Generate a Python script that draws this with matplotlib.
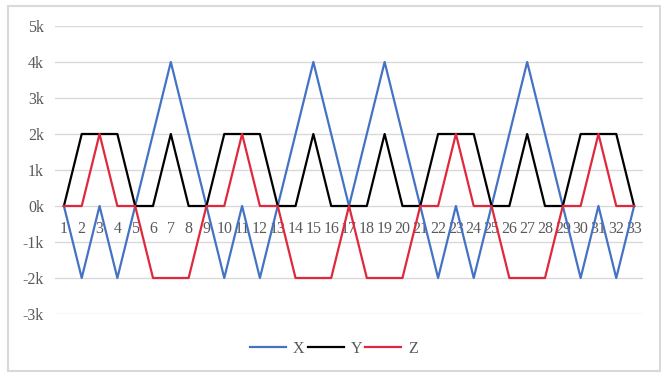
#Recreating the X / Y / Z zigzag line chart

#imports
import matplotlib
matplotlib.use("Agg")
import matplotlib.pyplot as plt
from matplotlib.patches import Rectangle
from matplotlib.ticker import FuncFormatter

#data
categories = list(range(1, 34))

x_values = [0, -2000, 0, -2000, 0, 2000, 4000, 2000, 0, -2000, 0,
            -2000, 0, 2000, 4000, 2000, 0, 2000, 4000, 2000, 0, -2000,
            0, -2000, 0, 2000, 4000, 2000, 0, -2000, 0, -2000, 0]

y_values = [0, 2000, 2000, 2000, 0, 0, 2000, 0, 0, 2000, 2000,
            2000, 0, 0, 2000, 0, 0, 0, 2000, 0, 0, 2000,
            2000, 2000, 0, 0, 2000, 0, 0, 2000, 2000, 2000, 0]

z_values = [0, 0, 2000, 0, 0, -2000, -2000, -2000, 0, 0, 2000,
            0, 0, -2000, -2000, -2000, 0, -2000, -2000, -2000, 0, 0,
            2000, 0, 0, -2000, -2000, -2000, 0, 0, 2000, 0, 0]

y_ticks = [-3000, -2000, -1000, 0, 1000, 2000, 3000, 4000, 5000]

TEXT_GREY = "#595959"
GRID_GREY = "#d9d9d9"

plt.rcParams["font.family"] = ["Liberation Serif", "DejaVu Serif"]

fig = plt.figure(figsize=(6.68, 3.8), dpi=100)

#outer chart border
fig.patches.append(Rectangle((8 / 668, 1 - 371 / 380), 652 / 668, 365 / 380,
                             transform=fig.transFigure, fill=False,
                             edgecolor=GRID_GREY, linewidth=1.5))

ax = fig.add_axes([55 / 668, 1 - 314 / 380, 588 / 668, 288 / 380])

ax.plot(categories, x_values, color="#4472C4", lw=1.6, label="X")
ax.plot(categories, y_values, color="#000000", lw=1.6, label="Y")
ax.plot(categories, z_values, color="#E0283C", lw=1.6, label="Z")

ax.set_xlim(0.5, 33.5)
ax.set_ylim(-3000, 5000)
ax.set_yticks(y_ticks)
ax.yaxis.set_major_formatter(FuncFormatter(lambda v, p: f"{int(v / 1000)}k"))
ax.set_xticks(categories)
ax.set_xticklabels([str(c) for c in categories])

ax.grid(axis="y", color=GRID_GREY, lw=1)
ax.set_axisbelow(True)
for s in ["top", "right", "left"]:
    ax.spines[s].set_visible(False)
ax.spines["bottom"].set_position(("data", 0))
ax.spines["bottom"].set_visible(False)

ax.tick_params(axis="both", length=0, labelsize=11.5, labelcolor=TEXT_GREY)
ax.tick_params(axis="y", pad=8)
ax.tick_params(axis="x", pad=11)

fig.legend(loc="center", bbox_to_anchor=(0.5, 1 - 349 / 380), ncol=3,
           frameon=False, fontsize=11.5, labelcolor=TEXT_GREY,
           handlelength=2.25, handletextpad=0.45, columnspacing=0.2)

plt.savefig("out.png", dpi=100)
plt.close()
